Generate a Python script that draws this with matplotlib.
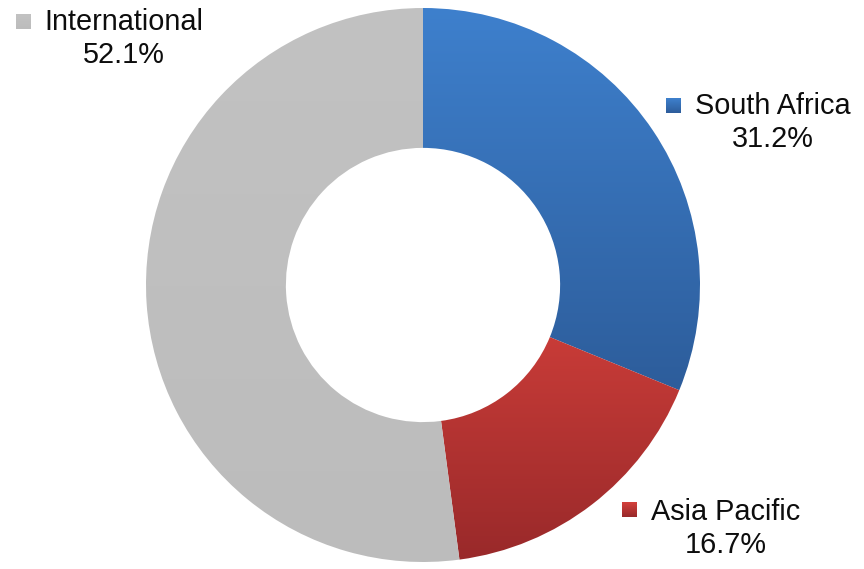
import numpy as np
import matplotlib.pyplot as plt
from matplotlib.colors import LinearSegmentedColormap

plt.rcParams['font.family'] = ['Liberation Sans', 'DejaVu Sans']

regions = ["South Africa", "Asia Pacific", "International"]
shares = [31.2, 16.7, 52.1]
# top / bottom colour of each slice's vertical gradient
top_colors = ["#3e80cd", "#d3403b", "#c2c2c2"]
bottom_colors = ["#2d5d9b", "#99292a", "#bcbcbc"]

W, H = 864, 569
fig = plt.figure(figsize=(W / 100, H / 100), dpi=100)

# donut axes: centre (423, 285) px, radius 277 px
cx, cy, r = 423, 285, 277
ax = fig.add_axes([(cx - r) / W, (H - cy - r) / H, 2 * r / W, 2 * r / H])
wedges, _ = ax.pie(shares, startangle=90, counterclock=False, radius=1.0,
                   wedgeprops=dict(width=0.505, linewidth=0))
ax.set_aspect("equal")
ax.axis("off")

grad = np.linspace(1, 0, 256).reshape(-1, 1)
for wedge, c0, c1 in zip(wedges, top_colors, bottom_colors):
    verts = wedge.get_path().vertices
    x0, x1 = verts[:, 0].min(), verts[:, 0].max()
    y0, y1 = verts[:, 1].min(), verts[:, 1].max()
    cmap = LinearSegmentedColormap.from_list("g", [c1, c0])
    im = ax.imshow(grad, cmap=cmap, extent=[x0, x1, y0, y1],
                   aspect="auto", interpolation="bilinear", zorder=2)
    im.set_clip_path(wedge)
    wedge.set_facecolor("none")
ax.set_xlim(-1, 1)
ax.set_ylim(-1, 1)

# overlay in pixel coordinates for the labels
ov = fig.add_axes([0, 0, 1, 1])
ov.axis("off")

# marker centre, text centre x, first-line y
label_pos = [((673, 105), 773, 106), ((629, 510), 726, 512), ((23, 21), 124, 22)]
for (name, val, c0, c1, pos) in zip(regions, shares, top_colors, bottom_colors, label_pos):
    (mx, my), tx, ty = pos
    s = 7.5
    cmap = LinearSegmentedColormap.from_list("g", [c0, c1])
    ov.imshow(np.linspace(0, 1, 32).reshape(-1, 1), cmap=cmap,
              extent=[mx - s, mx + s, my + s, my - s], aspect="auto",
              interpolation="bilinear")
    ov.text(tx, ty, name, ha="center", va="center", fontsize=20.8, color="#0d0d0d")
    ov.text(tx, ty + 33, f"{val}%", ha="center", va="center", fontsize=20.8,
            color="#0d0d0d")
ov.set_xlim(0, W)
ov.set_ylim(H, 0)

fig.savefig("out.png", dpi=100)
